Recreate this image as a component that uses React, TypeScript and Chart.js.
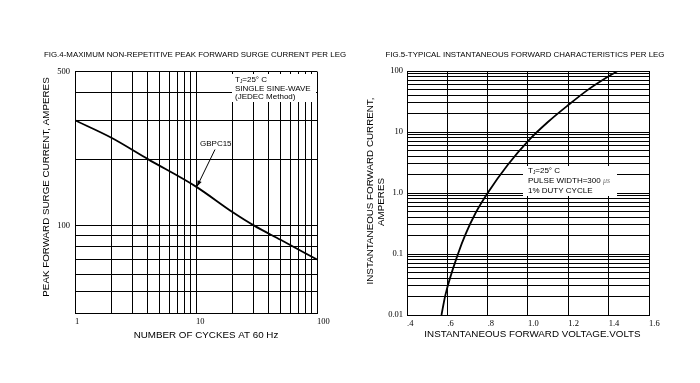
import React, { useEffect, useRef } from 'react';
import { Chart, registerables } from 'chart.js';
Chart.register(...registerables);

// ---------- FIG.4 data ----------
const cycles = [1, 2, 4, 10, 20, 30, 50, 100];
const surgeAmps = [300, 250, 200, 150, 115, 100, 86, 70];
const cycleGrid = [1, 2, 3, 4, 5, 6, 7, 8, 9, 10, 20, 30, 40, 50, 60, 70, 80, 90, 100];
const cycleLabels = [1, 10, 100];
const surgeGrid = [40, 50, 60, 70, 80, 90, 100, 200, 300, 400, 500];
const surgeLabels = [100, 500];

// ---------- FIG.5 data ----------
const volts = [0.571, 0.59, 0.655, 0.69, 0.74, 0.8, 0.9, 1.0, 1.1, 1.2, 1.3, 1.4, 1.445];
const fwdAmps = [0.01, 0.021, 0.105, 0.21, 0.47, 1.0, 2.9, 7.1, 14.7, 27.7, 50, 82, 100];
const voltGrid = [0.4, 0.6, 0.8, 1.0, 1.2, 1.4, 1.6];
const voltLabels = ['.4', '.6', '.8', '1.0', '1.2', '1.4', '1.6'];
const ampGrid = [
  0.01, 0.02, 0.03, 0.04, 0.05, 0.06, 0.07, 0.08, 0.09,
  0.1, 0.2, 0.3, 0.4, 0.5, 0.6, 0.7, 0.8, 0.9,
  1, 2, 3, 4, 5, 6, 7, 8, 9,
  10, 20, 30, 40, 50, 60, 70, 80, 90, 100,
];
const ampLabelValues = [0.01, 0.1, 1, 10, 100];
const ampLabelTexts = ['0.01', '0.1', '1.0', '10', '100'];

const SANS = '"Liberation Sans", Arial, sans-serif';
const SERIF = '"Liberation Serif", "Times New Roman", serif';
const INK = '#000';

function txt(ctx: CanvasRenderingContext2D, s: string, x: number, y: number, size: number, align: CanvasTextAlign = 'center', rot = 0) {
  ctx.save();
  ctx.translate(x, y);
  if (rot) ctx.rotate(rot);
  ctx.font = `${size}px ${SANS}`;
  ctx.fillStyle = INK;
  ctx.textAlign = align;
  ctx.textBaseline = 'middle';
  ctx.fillText(s, 0, 0);
  ctx.restore();
}

function tjText(ctx: CanvasRenderingContext2D, x: number, y: number, size: number) {
  ctx.save();
  ctx.fillStyle = INK;
  ctx.textBaseline = 'middle';
  ctx.textAlign = 'left';
  ctx.font = `${size}px ${SANS}`;
  ctx.fillText('T', x, y);
  const wT = ctx.measureText('T').width;
  ctx.font = `${size * 0.6}px ${SANS}`;
  ctx.fillText('J', x + wT, y + 2);
  const wJ = ctx.measureText('J').width;
  ctx.font = `${size}px ${SANS}`;
  ctx.fillText('=25° C', x + wT + wJ, y);
  ctx.restore();
}

const tickFont = { family: SERIF, size: 8.5 };

const leftDeco = {
  id: 'leftDeco',
  beforeDatasetsDraw(chart: any) {
    const ctx = chart.ctx as CanvasRenderingContext2D;
    ctx.save();
    ctx.fillStyle = '#fff';
    ctx.fillRect(232, 74, 84, 28);
    ctx.restore();
    tjText(ctx, 235, 80, 8);
    txt(ctx, 'SINGLE SINE-WAVE', 235, 88.5, 8, 'left');
    txt(ctx, '(JEDEC Method)', 235, 97, 8, 'left');
  },
  afterDraw(chart: any) {
    const ctx = chart.ctx as CanvasRenderingContext2D;
    txt(ctx, 'FIG.4-MAXIMUM NON-REPETITIVE PEAK FORWARD SURGE CURRENT PER LEG', 195, 55, 7.9);
    txt(ctx, 'NUMBER OF CYCKES AT 60 Hz', 206, 335, 9.8);
    txt(ctx, 'PEAK FORWARD SURGE CURRENT, AMPERES', 46, 187, 9.8, 'center', -Math.PI / 2);
    txt(ctx, 'GBPC15', 200, 144, 8, 'left');
    const x1 = 215, y1 = 149.5, x2 = 197, y2 = 186.5;
    ctx.save();
    ctx.strokeStyle = INK;
    ctx.fillStyle = INK;
    ctx.lineWidth = 1;
    ctx.beginPath();
    ctx.moveTo(x1, y1);
    ctx.lineTo(x2, y2);
    ctx.stroke();
    const a = Math.atan2(y2 - y1, x2 - x1);
    const L = 6, W = 2.2;
    ctx.beginPath();
    ctx.moveTo(x2, y2);
    ctx.lineTo(x2 - L * Math.cos(a) + W * Math.sin(a), y2 - L * Math.sin(a) - W * Math.cos(a));
    ctx.lineTo(x2 - L * Math.cos(a) - W * Math.sin(a), y2 - L * Math.sin(a) + W * Math.cos(a));
    ctx.closePath();
    ctx.fill();
    ctx.restore();
  },
};

const rightDeco = {
  id: 'rightDeco',
  beforeDatasetsDraw(chart: any) {
    const ctx = chart.ctx as CanvasRenderingContext2D;
    ctx.save();
    ctx.fillStyle = '#fff';
    ctx.fillRect(173, 166, 94, 30);
    ctx.restore();
    tjText(ctx, 178, 171, 8);
    txt(ctx, 'PULSE WIDTH=300 ', 178, 181, 8, 'left');
    ctx.save();
    ctx.font = `8px ${SANS}`;
    const w = ctx.measureText('PULSE WIDTH=300 ').width;
    ctx.font = `italic 8px ${SERIF}`;
    ctx.fillStyle = '#777';
    ctx.textBaseline = 'middle';
    ctx.textAlign = 'left';
    ctx.fillText('μs', 178 + w, 181);
    ctx.restore();
    txt(ctx, '1% DUTY CYCLE', 178, 190.5, 8, 'left');
  },
  afterDraw(chart: any) {
    const ctx = chart.ctx as CanvasRenderingContext2D;
    txt(ctx, 'FIG.5-TYPICAL INSTANTANEOUS FORWARD CHARACTERISTICS PER LEG', 175, 55, 7.9);
    txt(ctx, 'INSTANTANEOUS FORWARD VOLTAGE.VOLTS', 182.5, 334, 9.8);
    txt(ctx, 'INSTANTANEOUS FORWARD CURRENT,', 20, 191, 9.8, 'center', -Math.PI / 2);
    txt(ctx, 'AMPERES', 31.5, 202, 9.8, 'center', -Math.PI / 2);
  },
};

function leftConfig(): any {
  return {
    type: 'line',
    data: {
      datasets: [{
        data: cycles.map((x, i) => ({ x, y: surgeAmps[i] })),
        borderColor: INK,
        borderWidth: 1.8,
        pointRadius: 0,
        fill: false,
        cubicInterpolationMode: 'monotone',
      }],
    },
    options: {
      animation: false,
      responsive: false,
      maintainAspectRatio: false,
      layout: { padding: { left: 0, right: 33, top: 71.5, bottom: 0 } },
      plugins: { legend: { display: false }, tooltip: { enabled: false }, title: { display: false } },
      scales: {
        x: {
          type: 'logarithmic', min: 1, max: 100,
          afterBuildTicks: (s: any) => { s.ticks = cycleGrid.map((v) => ({ value: v })); },
          afterFit: (s: any) => { s.height = 70; },
          grid: { color: INK, lineWidth: 1, drawTicks: false },
          border: { color: INK, width: 1 },
          ticks: {
            autoSkip: false, maxRotation: 0, minRotation: 0, align: 'start', padding: 3.5,
            font: tickFont, color: INK,
            callback: (v: number) => (cycleLabels.includes(v) ? String(v) : ''),
          },
        },
        y: {
          type: 'logarithmic', min: 40, max: 500,
          afterBuildTicks: (s: any) => { s.ticks = surgeGrid.map((v) => ({ value: v })); },
          afterFit: (s: any) => { s.width = 75; },
          grid: { color: INK, lineWidth: 1, drawTicks: false },
          border: { color: INK, width: 1 },
          ticks: {
            autoSkip: false, padding: 5, font: tickFont, color: INK,
            callback: (v: number) => (surgeLabels.includes(v) ? String(v) : ''),
          },
        },
      },
    },
    plugins: [leftDeco],
  };
}

function rightConfig(): any {
  return {
    type: 'line',
    data: {
      datasets: [{
        data: volts.map((x, i) => ({ x, y: fwdAmps[i] })),
        borderColor: INK,
        borderWidth: 1.8,
        pointRadius: 0,
        fill: false,
        cubicInterpolationMode: 'monotone',
      }],
    },
    options: {
      animation: false,
      responsive: false,
      maintainAspectRatio: false,
      layout: { padding: { left: 0, right: 51, top: 71, bottom: 0 } },
      plugins: { legend: { display: false }, tooltip: { enabled: false }, title: { display: false } },
      scales: {
        x: {
          type: 'linear', min: 0.4, max: 1.6,
          afterBuildTicks: (s: any) => { s.ticks = voltGrid.map((v) => ({ value: v })); },
          afterFit: (s: any) => { s.height = 68; },
          grid: { color: INK, lineWidth: 1, drawTicks: false },
          border: { color: INK, width: 1 },
          ticks: {
            autoSkip: false, maxRotation: 0, minRotation: 0, align: 'start', padding: 4,
            font: tickFont, color: INK,
            callback: (v: number, i: number) => voltLabels[i] ?? '',
          },
        },
        y: {
          type: 'logarithmic', min: 0.01, max: 100,
          afterBuildTicks: (s: any) => { s.ticks = ampGrid.map((v) => ({ value: v })); },
          afterFit: (s: any) => { s.width = 57; },
          grid: { color: INK, lineWidth: 1, drawTicks: false },
          border: { color: INK, width: 1 },
          ticks: {
            autoSkip: false, padding: 4, font: tickFont, color: INK,
            callback: (v: number) => {
              const k = ampLabelValues.findIndex((a) => Math.abs(a - v) / a < 1e-6);
              return k >= 0 ? ampLabelTexts[k] : '';
            },
          },
        },
      },
    },
    plugins: [rightDeco],
  };
}

export default function App() {
  const leftRef = useRef<HTMLCanvasElement>(null);
  const rightRef = useRef<HTMLCanvasElement>(null);
  useEffect(() => {
    const c1 = new Chart(leftRef.current as HTMLCanvasElement, leftConfig());
    const c2 = new Chart(rightRef.current as HTMLCanvasElement, rightConfig());
    return () => { c1.destroy(); c2.destroy(); };
  }, []);
  return (
    <div style={{ position: 'absolute', left: 0, top: 0, width: 700, height: 383, background: '#fff' }}>
      <canvas ref={leftRef} width={350} height={383} style={{ position: 'absolute', left: 0, top: 0, width: 350, height: 383 }} />
      <canvas ref={rightRef} width={350} height={383} style={{ position: 'absolute', left: 350, top: 0, width: 350, height: 383 }} />
    </div>
  );
}
